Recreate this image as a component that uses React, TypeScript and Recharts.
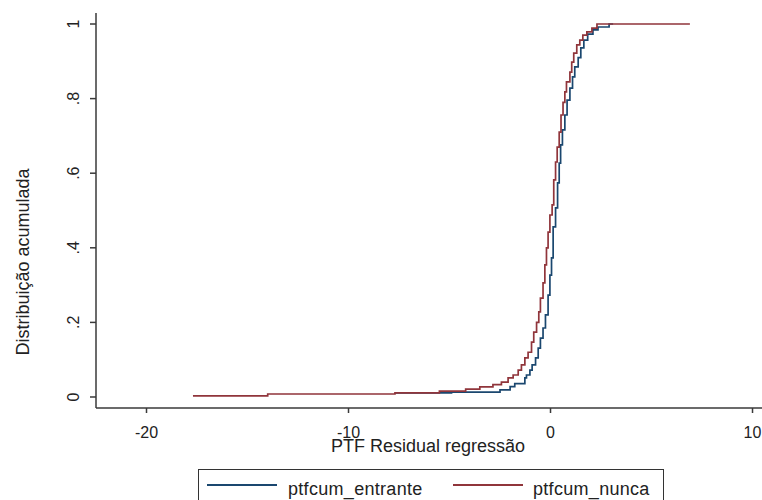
import React from 'react';
import { LineChart, Line, XAxis, YAxis, Legend } from 'recharts';

const FONT = '"Liberation Sans", Arial, sans-serif';
const BLUE = '#1a476f';
const RED = '#90353b';

// ptfcum_entrante (blue)
const entranteX = [-7.7, -4.9, -2.5, -2.0, -1.77, -1.27, -1.19, -1.02, -0.91, -0.74, -0.61, -0.5, -0.37, -0.25, -0.12, -0.03, 0.05, 0.13, 0.25, 0.35, 0.43, 0.5, 0.59, 0.71, 0.82, 0.96, 1.09, 1.2, 1.37, 1.5, 1.65, 1.84, 2.1, 2.35, 2.9, 3.1];
const entranteY = [0.011, 0.013, 0.019, 0.028, 0.036, 0.051, 0.059, 0.072, 0.086, 0.105, 0.131, 0.158, 0.185, 0.22, 0.273, 0.327, 0.373, 0.456, 0.507, 0.574, 0.627, 0.676, 0.716, 0.756, 0.796, 0.828, 0.858, 0.885, 0.91, 0.936, 0.957, 0.973, 0.984, 0.992, 1.0, 1.0];

// ptfcum_nunca (red)
const nuncaX = [-17.7, -14.0, -7.7, -5.5, -4.2, -3.5, -2.85, -2.43, -2.1, -1.85, -1.6, -1.44, -1.27, -1.11, -0.94, -0.83, -0.69, -0.58, -0.5, -0.37, -0.28, -0.2, -0.12, -0.03, 0.08, 0.16, 0.25, 0.33, 0.43, 0.52, 0.62, 0.71, 0.79, 0.96, 1.05, 1.15, 1.3, 1.45, 1.6, 1.8, 2.05, 2.3, 6.9];
const nuncaY = [0.003, 0.008, 0.011, 0.016, 0.021, 0.027, 0.033, 0.04, 0.051, 0.059, 0.072, 0.086, 0.105, 0.12, 0.147, 0.174, 0.2, 0.228, 0.265, 0.306, 0.354, 0.4, 0.442, 0.488, 0.515, 0.582, 0.63, 0.67, 0.71, 0.756, 0.79, 0.818, 0.845, 0.871, 0.898, 0.922, 0.944, 0.957, 0.97, 0.979, 0.989, 1.0, 1.0];

const xTicks = [-20, -10, 0, 10];
const yTicks = [0, 0.2, 0.4, 0.6, 0.8, 1];
const yTickLabels = ['0', '.2', '.4', '.6', '.8', '1'];
const seriesNames = ['ptfcum_entrante', 'ptfcum_nunca'];
const xTitle = 'PTF Residual regressão';
const yTitle = 'Distribuição acumulada';

const entranteData = entranteX.map((x, i) => ({ x, y: entranteY[i] }));
const nuncaData = nuncaX.map((x, i) => ({ x, y: nuncaY[i] }));

const YTick = (props: any) => {
  const { x, y, payload } = props;
  const idx = yTicks.indexOf(payload.value);
  const label = idx >= 0 ? yTickLabels[idx] : String(payload.value);
  return (
    <text x={x} y={y} transform={`rotate(-90 ${x} ${y})`} textAnchor="middle" fontSize={16} fontFamily={FONT} fill="#222">
      {label}
    </text>
  );
};

const AxisTitle = (props: any) => {
  const { px, py, title, rot } = props;
  return (
    <text x={px} y={py} transform={rot ? `rotate(-90 ${px} ${py})` : undefined} textAnchor="middle" fontSize={18} fontFamily={FONT} fill="#222">
      {title}
    </text>
  );
};

const LegendBox = () => (
  <div style={{ position: 'relative', width: 466, height: 40, boxSizing: 'border-box', border: '1.5px solid #333', background: '#fff', fontFamily: FONT, fontSize: 18, color: '#222' }}>
    <div style={{ position: 'absolute', left: 8, top: 14, width: 70, height: 1.5, background: BLUE }} />
    <div style={{ position: 'absolute', left: 89, top: 9, lineHeight: '20px', whiteSpace: 'nowrap', letterSpacing: '0.3px' }}>{seriesNames[0]}</div>
    <div style={{ position: 'absolute', left: 254, top: 14, width: 70, height: 1.5, background: RED }} />
    <div style={{ position: 'absolute', left: 334, top: 9, lineHeight: '20px', whiteSpace: 'nowrap', letterSpacing: '0.3px' }}>{seriesNames[1]}</div>
  </div>
);

export default function App() {
  return (
    <div style={{ position: 'fixed', left: 0, top: 0, width: 762, height: 500, overflow: 'hidden', background: '#fff' }}>
      <LineChart width={801} height={500} margin={{ top: 13, right: 0, left: 0, bottom: 0 }}>
        <XAxis
          type="number"
          dataKey="x"
          domain={[-22.5, 12.4]}
          allowDataOverflow
          ticks={xTicks}
          height={52}
          tickSize={5}
          tickMargin={14}
          tick={{ fontSize: 16, fontFamily: FONT, fill: '#222' }}
          axisLine={{ stroke: '#3a3a3a', strokeWidth: 1.5 }}
          tickLine={{ stroke: '#3a3a3a', strokeWidth: 1.5 }}
          label={<AxisTitle px={428} py={452} title={xTitle} />}
        />
        <YAxis
          type="number"
          domain={[-0.0295, 1.0295]}
          allowDataOverflow
          ticks={yTicks}
          width={96}
          tickSize={6}
          tickMargin={11}
          tick={<YTick />}
          axisLine={{ stroke: '#3a3a3a', strokeWidth: 1.5 }}
          tickLine={{ stroke: '#3a3a3a', strokeWidth: 1.5 }}
          label={<AxisTitle px={29} py={262} title={yTitle} rot />}
        />
        <Legend content={<LegendBox />} wrapperStyle={{ left: 198, top: 469, width: 466 }} />
        <Line data={entranteData} dataKey="y" name={seriesNames[0]} type="stepAfter" stroke={BLUE} strokeWidth={1.7} dot={false} isAnimationActive={false} />
        <Line data={nuncaData} dataKey="y" name={seriesNames[1]} type="stepAfter" stroke={RED} strokeWidth={1.7} dot={false} isAnimationActive={false} />
      </LineChart>
    </div>
  );
}
